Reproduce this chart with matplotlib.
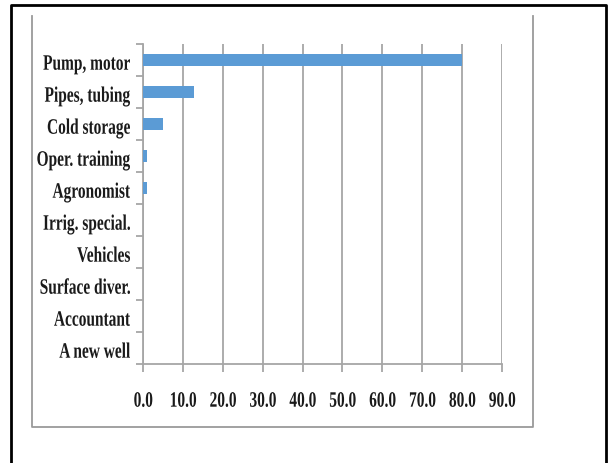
import numpy as np
import matplotlib.pyplot as plt
from matplotlib.lines import Line2D
from matplotlib.textpath import TextPath
from matplotlib.patches import PathPatch
from matplotlib.font_manager import FontProperties
from matplotlib.transforms import Affine2D

# share of responses per item (%)
items = ['Pump, motor', 'Pipes, tubing', 'Cold storage', 'Oper. training',
         'Agronomist', 'Irrig. special.', 'Vehicles', 'Surface diver.',
         'Accountant', 'A new well']
values = [80.0, 12.8, 4.9, 0.9, 0.9, 0.0, 0.0, 0.0, 0.0, 0.0]
xticks = np.arange(0, 100, 10)

W, H = 608, 464
fig = plt.figure(figsize=(W / 100, H / 100), dpi=100)
ax = fig.add_axes([143 / W, 1 - 365 / H, (502 - 143) / W, (365 - 45) / H])

grid_c = '#a6a6a6'
ypos = np.arange(len(items))[::-1]
ax.barh(ypos, values, height=0.4, color='#5b9bd5', zorder=3)

ax.set_xlim(0, 90)
ax.set_ylim(-0.5, len(items) - 0.5)
ax.set_xticks(xticks)
ax.set_xticklabels([])
ax.xaxis.grid(True, color=grid_c, lw=1.3, zorder=0)
ax.set_yticks(np.arange(-0.5, len(items), 1.0))
ax.set_yticklabels([])
ax.tick_params(axis='y', length=5, color=grid_c, width=1.3)
ax.tick_params(axis='x', length=6, color=grid_c, width=1.3)

for s in ['top', 'right']:
    ax.spines[s].set_visible(False)
for s in ['left', 'bottom']:
    ax.spines[s].set_color(grid_c)
    ax.spines[s].set_linewidth(1.3)

# narrow bold serif labels: glyph outlines squeezed horizontally
font = FontProperties(family='Liberation Serif', weight='bold')
size_px, squeeze = 22, 0.70

def label(s, x, y, ha):
    tp = TextPath((0, 0), s, size=size_px, prop=font)
    ext = tp.get_extents()
    w = ext.x1 * squeeze
    x0 = x - w if ha == 'right' else x - w / 2
    tr = Affine2D().scale(squeeze, 1).translate(x0, y)
    fig.add_artist(PathPatch(tr.transform_path(tp), transform=None,
                             color='#1a1a1a', lw=0))

for name, y in zip(items, ypos):
    yc = ax.transData.transform((0, y))[1]
    label(name, 130, yc - 9.7, 'right')
for v in xticks:
    xc = ax.transData.transform((v, 0))[0]
    label('%.1f' % v, xc, H - 407.7, 'center')

# outer frames
def px_line(xs, ys, color, lw):
    fig.add_artist(Line2D([x / W for x in xs], [1 - y / H for y in ys],
                          color=color, lw=lw, transform=fig.transFigure))

px_line([11, 11, 606, 606], [H, 6, 6, H], 'black', 2.0)
px_line([32, 32, 533, 533], [17, 428, 428, 17], '#9a9a9a', 1.3)

fig.savefig('out.png', dpi=100)
